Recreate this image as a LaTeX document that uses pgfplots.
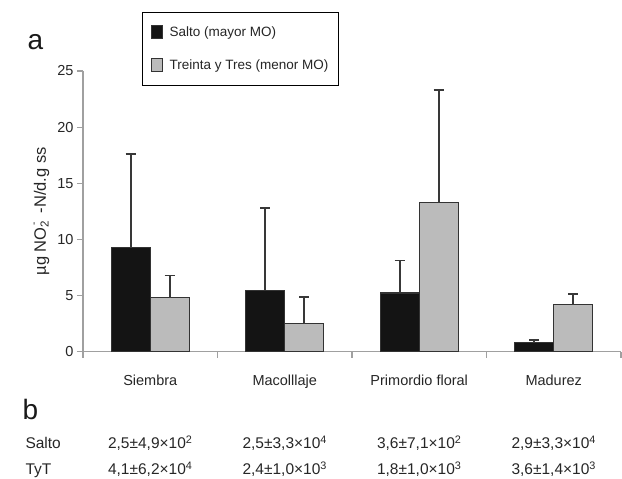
\documentclass[border=0pt]{standalone}
\usepackage{fontspec}
\setmainfont{Liberation Sans}
\usepackage{pgfplots}
\pgfplotsset{compat=1.18}
\definecolor{salto}{HTML}{141414}
\definecolor{tyt}{HTML}{BBBBBB}
\definecolor{axgray}{HTML}{A0A0A0}
\definecolor{edge}{HTML}{333333}
\definecolor{errc}{HTML}{383838}
\begin{document}
\begin{tikzpicture}[x=1pt,y=1pt]
\path[use as bounding box] (0,0) rectangle (622,479);
\begin{axis}[
  at={(83pt,127.3pt)}, anchor=south west,
  scale only axis, width=538pt, height=280.7pt,
  xmin=0.5, xmax=4.5, ymin=0, ymax=25,
  axis x line=bottom, axis y line=left,
  axis line style={-, draw=axgray, line width=1.2pt},
  ybar=0pt, bar width=39pt,
  xtick={0.5,1.5,2.5,3.5,4.5},
  xticklabels={},
  extra x ticks={1,2,3,4},
  extra x tick labels={Siembra, Macolllaje, Primordio floral, Madurez},
  extra x tick style={major tick length=0pt, xticklabel style={yshift=-20pt}},
  ytick={0,5,10,15,20,25},
  tick style={draw=axgray, line width=1.2pt},
  tick align=outside, major tick length=6pt,
  /pgf/number format/assume math mode=true,
  tick label style={font=\fontsize{14.5}{17}\selectfont, text=black!85},
  ylabel={µg NO\makebox[0pt][l]{\raisebox{0.55em}{\fontsize{10}{12}\selectfont\,-}}\textsubscript{2} \,-N/d.g ss},
  ylabel style={at={(axis description cs:-0.077,0.5)}, anchor=center, font=\fontsize{16.5}{19}\selectfont, text=black!85},
  legend style={at={(0.11,1.21)}, anchor=north west, draw=black, line width=0.8pt,
    font=\fontsize{13.5}{16}\selectfont, inner xsep=8pt, inner ysep=12pt, row sep=18pt, text=black!85,
    /tikz/every odd column/.append style={column sep=5pt}},
  legend cell align=left,
  legend image code/.code={\draw[#1] (0pt,-6.5pt) rectangle (11pt,6.5pt);},
  every error bar/.append style={line width=1.8pt, draw=errc},
]
\addplot[fill=salto, draw=edge, line width=1.1pt,
  error bars/.cd, y dir=plus, y explicit, error mark=|,
  error mark options={line width=1.8pt, draw=errc, mark size=5pt}]
  coordinates {
  (1,9.28) +- (0,8.35)
  (2,5.47) +- (0,7.35)
  (3,5.23) +- (0,2.90)
  (4,0.80) +- (0,0.24)
};
\addlegendentry{Salto (mayor MO)}
\addplot[fill=tyt, draw=edge, line width=1.1pt,
  error bars/.cd, y dir=plus, y explicit, error mark=|,
  error mark options={line width=1.8pt, draw=errc, mark size=5pt}]
  coordinates {
  (1,4.82) +- (0,1.97)
  (2,2.52) +- (0,2.35)
  (3,13.30) +- (0,10.00)
  (4,4.17) +- (0,0.97)
};
\addlegendentry{Treinta y Tres (menor MO)}
\end{axis}
\node[anchor=base west, font=\fontsize{28}{32}\selectfont, text=black!90] at (24,429) {a};
\node[anchor=base west, font=\fontsize{28}{32}\selectfont, text=black!90] at (19,59) {b};
\begin{scope}[every node/.style={font=\fontsize{15.5}{18}\selectfont, text=black!85}]
\node[anchor=base west] at (22,30) {Salto};
\node[anchor=base west] at (22,4) {TyT};
\node[anchor=base] at (150.25,30) {2,5±4,9×10\textsuperscript{2}};
\node[anchor=base] at (284.75,30) {2,5±3,3×10\textsuperscript{4}};
\node[anchor=base] at (419.25,30) {3,6±7,1×10\textsuperscript{2}};
\node[anchor=base] at (553.75,30) {2,9±3,3×10\textsuperscript{4}};
\node[anchor=base] at (150.25,4) {4,1±6,2×10\textsuperscript{4}};
\node[anchor=base] at (284.75,4) {2,4±1,0×10\textsuperscript{3}};
\node[anchor=base] at (419.25,4) {1,8±1,0×10\textsuperscript{3}};
\node[anchor=base] at (553.75,4) {3,6±1,4×10\textsuperscript{3}};
\end{scope}
\end{tikzpicture}
\end{document}
